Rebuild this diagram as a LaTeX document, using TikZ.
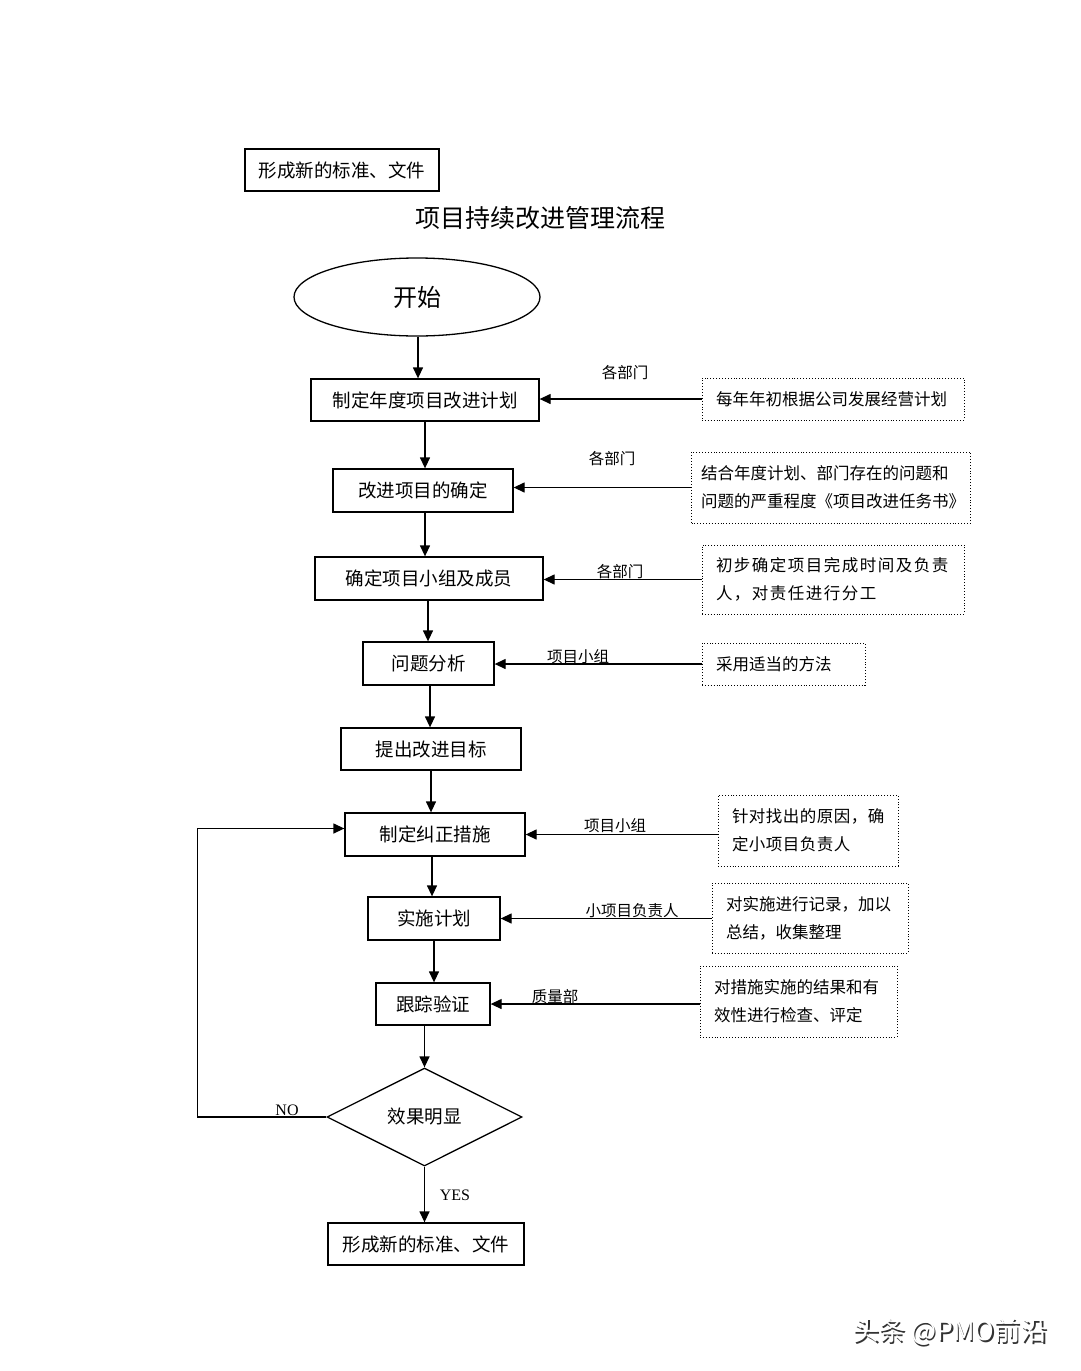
\documentclass[tikz,border=0pt]{standalone}
\usepackage{fontspec}
\setmainfont{Noto Sans CJK SC}
\setsansfont{Noto Sans CJK SC}
\newfontfamily\latinserif{Liberation Serif}
\usetikzlibrary{shapes.geometric,arrows.meta}
\begin{document}
\begin{tikzpicture}[x=1pt,y=-1pt,
  proc/.style={draw, line width=1.3pt, inner sep=0pt, font=\fontsize{18.5}{20}\selectfont},
  note/.style={draw, dotted, line width=0.9pt, inner sep=0pt, align=left, font=\fontsize{16.5}{28}\selectfont},
  lbl/.style={inner sep=0pt, font=\fontsize{15.5}{17}\selectfont},
  arr/.style={-{Triangle[length=11pt,width=10pt]}, line width=1.3pt},
  plain/.style={line width=1.3pt}]
\useasboundingbox (0,0) rectangle (1080,1371);
\fill[white] (0,0) rectangle (1080,1371);

% top standalone box and title
\node[proc, minimum width=194pt, minimum height=42pt] (top) at (342,170) {形成新的标准、文件};
\node[inner sep=0pt, font=\fontsize{25}{27}\selectfont] (title) at (540,218) {项目持续改进管理流程};

% main flow
\node[draw, ellipse, line width=1.3pt, minimum width=246pt, minimum height=78pt, inner sep=0pt, font=\fontsize{24}{26}\selectfont] (start) at (417,297) {开始};
\node[proc, minimum width=228pt, minimum height=42pt] (b1) at (425,400) {制定年度项目改进计划};
\node[proc, minimum width=180pt, minimum height=43pt] (b2) at (423,490.5) {改进项目的确定};
\node[proc, minimum width=228pt, minimum height=43pt] (b3) at (429,578.5) {确定项目小组及成员};
\node[proc, minimum width=131pt, minimum height=43pt] (b4) at (428.5,663.5) {问题分析};
\node[proc, minimum width=180pt, minimum height=42pt] (b5) at (431,749) {提出改进目标};
\node[proc, minimum width=180pt, minimum height=43pt] (b6) at (435,834.5) {制定纠正措施};
\node[proc, minimum width=132pt, minimum height=43pt] (b7) at (434,918.5) {实施计划};
\node[proc, minimum width=114pt, minimum height=42pt] (b8) at (433,1004) {跟踪验证};
\node[draw, diamond, aspect=2, line width=1.3pt, minimum width=195pt, minimum height=98pt, inner sep=0pt, font=\fontsize{18.5}{20}\selectfont] (d) at (424.5,1117) {效果明显};
\node[proc, minimum width=196pt, minimum height=42pt] (b9) at (426,1244) {形成新的标准、文件};

% notes
\node[note, minimum width=262pt, minimum height=42pt, text width=234pt] (n1) at (833,399) {每年年初根据公司发展经营计划};
\node[note, minimum width=279pt, minimum height=71pt, text width=260pt] (n2) at (831,487.5) {结合年度计划、部门存在的问题和\\问题的严重程度《项目改进任务书》};
\node[note, minimum width=262pt, minimum height=69pt, text width=234pt, font=\fontsize{16.5}{28}\selectfont\addfontfeature{LetterSpace=9}] (n3) at (833,579.5) {初步确定项目完成时间及负责\\人，对责任进行分工};
\node[note, minimum width=163pt, minimum height=42pt, text width=135pt] (n4) at (783.5,664) {采用适当的方法};
\node[note, minimum width=180pt, minimum height=71pt, text width=152pt, font=\fontsize{16.5}{28}\selectfont\addfontfeature{LetterSpace=3}] (n6) at (808,830.5) {针对找出的原因，确\\定小项目负责人};
\node[note, minimum width=196pt, minimum height=70pt, text width=168pt] (n7) at (810,918) {对实施进行记录，加以\\总结，收集整理};
\node[note, minimum width=197pt, minimum height=71pt, text width=169pt] (n8) at (798.5,1001.5) {对措施实施的结果和有\\效性进行检查、评定};

% labels
\node[lbl] (l1) at (625,373) {各部门};
\node[lbl] (l2) at (612,459) {各部门};
\node[lbl] (l3) at (620,572) {各部门};
\node[lbl] (l4) at (578,657) {项目小组};
\node[lbl] (l6) at (615,826) {项目小组};
\node[lbl] (l7) at (632,911) {小项目负责人};
\node[lbl] (l8) at (555,997) {质量部};
\node[inner sep=0pt, font=\latinserif\fontsize{16}{18}\selectfont] (no) at (287,1110) {NO};
\node[inner sep=0pt, font=\latinserif\fontsize{16}{18}\selectfont] (yes) at (455,1195) {YES};

% vertical arrows
\draw[arr] ([xshift=1pt]start.south) -- ([xshift=1pt]start.south |- b1.north);
\draw[arr] (b1.south) -- (b1.south |- b2.north);
\draw[arr] ([xshift=2pt]b2.south) -- ([xshift=2pt]b2.south |- b3.north);
\draw[arr] ([xshift=-1pt]b3.south) -- ([xshift=-1pt]b3.south |- b4.north);
\draw[arr] ([xshift=1.5pt]b4.south) -- ([xshift=1.5pt]b4.south |- b5.north);
\draw[arr] (b5.south) -- (b5.south |- b6.north);
\draw[arr] ([xshift=-3pt]b6.south) -- ([xshift=-3pt]b6.south |- b7.north);
\draw[arr] (b7.south) -- (b7.south |- b8.north);
\draw[arr] (b8.south -| d.north) -- (d.north);
\draw[arr] (d.south) -- (d.south |- b9.north);

% horizontal arrows from notes
\draw[arr] (n1.west) -- (n1.west -| b1.east);
\draw[arr] (n2.west) -- (n2.west -| b2.east);
\draw[arr] (n3.west) -- (n3.west -| b3.east);
\draw[arr] (n4.west) -- (n4.west -| b4.east);
\draw[arr] (n6.west |- b6.east) -- (b6.east);
\draw[arr] (n7.west |- b7.east) -- (b7.east);
\draw[arr] (n8.west |- b8.east) -- (b8.east);

% NO loop
\coordinate (loopin) at ([yshift=6pt]b6.west);
\draw[arr] (d.west) -- ++(-129,0) |- (loopin);

% watermark
\node[inner sep=0pt, font=\fontsize{26.5}{28}\selectfont, text=black!80] (wmshadow) at (951.5,1333.5) {头条 @PMO前沿};
\node[inner sep=0pt, font=\fontsize{26.5}{28}\selectfont, text=white] (wm) at (950,1332) {头条 @PMO前沿};
\end{tikzpicture}
\end{document}
